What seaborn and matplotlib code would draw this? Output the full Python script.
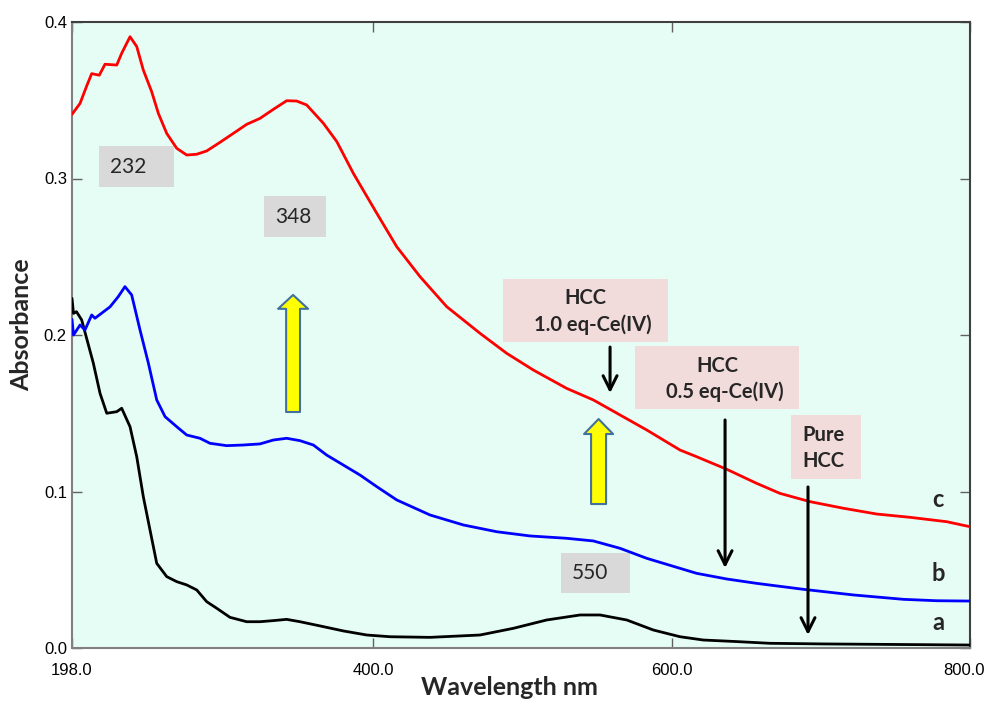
import matplotlib
matplotlib.use("Agg")
import matplotlib.pyplot as plt
import matplotlib.transforms as mtransforms
import seaborn as sns
import pandas as pd
from matplotlib.patches import Rectangle, FancyArrowPatch

# ---------------- data ----------------
wl_c = [198, 203.4, 207.8, 211.2, 216.3, 220.1, 228, 231.3, 236.9, 241.4, 245.8, 251.4, 255.9,
        261.5, 268.2, 274.9, 281.6, 288.3, 297.2, 306.1, 315.1, 324, 333, 341.9, 348.6, 355.3,
        366.5, 375.5, 386.6, 402.3, 415.7, 431.3, 449.2, 471.5, 489.4, 507.3, 529.6, 547.5,
        565.4, 583.3, 605.6, 616.8, 636.9, 657, 672.6, 692.8, 715.1, 737.5, 759.8, 784.4, 800]
abs_c = [0.341, 0.348, 0.359, 0.367, 0.366, 0.373, 0.3725, 0.380, 0.3906, 0.3843, 0.3693, 0.3555,
         0.3416, 0.3288, 0.3193, 0.315, 0.3155, 0.3176, 0.3231, 0.3288, 0.3346, 0.3384, 0.3442,
         0.3497, 0.3495, 0.347, 0.3353, 0.3236, 0.3033, 0.2778, 0.2564, 0.2373, 0.2181, 0.2011,
         0.1883, 0.1776, 0.1659, 0.1585, 0.1489, 0.1393, 0.1265, 0.1222, 0.1142, 0.1052, 0.0988,
         0.0935, 0.0893, 0.0856, 0.0835, 0.0807, 0.0775]

wl_b = [198, 199, 203.4, 206.7, 211.2, 213.4, 223.5, 229, 233.5, 238, 243.6, 249.2, 254.8, 260.4,
        268.2, 274.9, 283.8, 290.5, 301.7, 312.8, 324, 333, 341.9, 350.8, 359.8, 368.7, 379.9,
        391.1, 402.3, 415.7, 438, 460.4, 482.7, 505, 529.6, 547.5, 565.4, 583.3, 605.6, 616.8,
        636.9, 657, 688.3, 721.8, 755.3, 777.7, 800]
abs_b = [0.210, 0.200, 0.2064, 0.2032, 0.2128, 0.2107, 0.218, 0.2245, 0.2309, 0.2256, 0.2032, 0.182,
         0.1585, 0.1478, 0.1414, 0.1361, 0.134, 0.1308, 0.1293, 0.1297, 0.1304, 0.1329, 0.134,
         0.1325, 0.1297, 0.1233, 0.1169, 0.1105, 0.1031, 0.0946, 0.085, 0.0786, 0.0743, 0.0716,
         0.0701, 0.0684, 0.0637, 0.0573, 0.0509, 0.0477, 0.0441, 0.0413, 0.0375, 0.0339, 0.0311,
         0.0302, 0.030]

wl_a = [198, 199, 201, 204.5, 207.8, 212.3, 216.8, 221.3, 228, 231.3, 236.9, 241.4, 245.8, 250.3,
        254.8, 261.5, 268.2, 274.9, 281.6, 288.3, 295, 303.9, 315.1, 324, 333, 341.9, 350.8,
        364.3, 379.9, 395.6, 411.2, 438, 471.5, 494, 516.2, 538.6, 552, 569.9, 587.7, 605.6,
        621.2, 643.6, 665.9, 701.7, 800]
abs_a = [0.2234, 0.2138, 0.2149, 0.2096, 0.1979, 0.182, 0.1627, 0.15, 0.151, 0.1532, 0.1414, 0.1222,
         0.0967, 0.0754, 0.0541, 0.0456, 0.0424, 0.0403, 0.0371, 0.0296, 0.0254, 0.0196, 0.0168,
         0.0168, 0.0175, 0.0183, 0.0168, 0.0141, 0.0109, 0.0083, 0.0072, 0.0068, 0.0083, 0.0126,
         0.0179, 0.0211, 0.0211, 0.0179, 0.0115, 0.0072, 0.0051, 0.0041, 0.003, 0.0026, 0.0019]

series_names = ["a", "b", "c"]
series_colors = {"a": "#000000", "b": "#0000ff", "c": "#ff0000"}

x_ticks = [198, 400, 600, 800]
x_tick_labels = ["198.0", "400.0", "600.0", "800.0"]
y_ticks = [0.0, 0.1, 0.2, 0.3, 0.4]
y_tick_labels = ["0.0", "0.1", "0.2", "0.3", "0.4"]

peak_labels = ["232", "348", "550"]
x_label = "Wavelength nm"
y_label = "Absorbance"

# ---------------- style ----------------
sns.set_theme(style="ticks")
plt.rcParams['font.family'] = ['Liberation Sans Narrow', 'Liberation Sans', 'DejaVu Sans']

df = pd.concat([
    pd.DataFrame({"wl": wl_a, "abs": abs_a, "sample": "a"}),
    pd.DataFrame({"wl": wl_b, "abs": abs_b, "sample": "b"}),
    pd.DataFrame({"wl": wl_c, "abs": abs_c, "sample": "c"}),
], ignore_index=True)

fig = plt.figure(figsize=(9.87, 7.02), dpi=100)
fig.patch.set_facecolor("white")
ax = fig.add_axes([72 / 987, 54 / 702, 898 / 987, 626 / 702])
ax.set_facecolor("#e6fdf5")

sns.lineplot(data=df, x="wl", y="abs", hue="sample", hue_order=series_names,
             palette=series_colors, estimator=None, linewidth=2.0, legend=False, ax=ax, zorder=5)

ax.set_xlim(198, 800)
ax.set_ylim(0, 0.4)
ax.set_xticks(x_ticks)
ax.set_xticklabels(x_tick_labels)
ax.set_yticks(y_ticks)
ax.set_yticklabels(y_tick_labels)
ax.tick_params(direction="in", top=True, right=True, length=7, width=1,
               color="#606060", labelsize=12, labelcolor="black")
ax.tick_params(axis="x", pad=10.5)
ax.tick_params(axis="y", pad=3.6)
for side, sp in ax.spines.items():
    sp.set_visible(True)
    sp.set_linewidth(1.5)
    sp.set_color("#808080" if side in ("left", "bottom") else "#404040")

# keep the last x tick label inside the figure
last_lbl = ax.get_xticklabels()[-1]
last_lbl.set_transform(last_lbl.get_transform() +
                       mtransforms.ScaledTranslation(-4 / 72, 0, fig.dpi_scale_trans))

ax.set_ylabel(y_label, fontfamily="Lato", fontweight="bold", fontsize=18, va="center")
ax.yaxis.set_label_coords(-0.0557, 0.516)
ax.set_xlabel(x_label, fontfamily="Lato", fontweight="bold", fontsize=18, va="top")
ax.xaxis.set_label_coords(0.4867, -0.0447)

# ---------------- annotations ----------------
def box(x0, x1, y0, y1, color):
    ax.add_patch(Rectangle((x0, y0), x1 - x0, y1 - y0, facecolor=color,
                           edgecolor="none", zorder=3))

gray = "#d9d9d9"
pink = "#f2dcdb"

box(216.1, 266.4, 0.2946, 0.3208, gray)
ax.text(235.5, 0.3073, peak_labels[0], fontfamily="Lato", fontsize=15, ha="center", va="center", zorder=4)
box(326.7, 368.3, 0.2626, 0.2888, gray)
ax.text(346.5, 0.2756, peak_labels[1], fontfamily="Lato", fontsize=15, ha="center", va="center", zorder=4)
box(525.8, 572.1, 0.0351, 0.0607, gray)
ax.text(545.3, 0.0479, peak_labels[2], fontfamily="Lato", fontsize=15, ha="center", va="center", zorder=4)

bold_kw = dict(fontfamily="Lato", fontweight="bold", fontsize=14.5, va="center", zorder=4)
box(486.9, 597.5, 0.1955, 0.2358, pink)
ax.text(541.9, 0.2236, "HCC", ha="center", **bold_kw)
ax.text(547.3, 0.2064, "1.0 eq-Ce(IV)", ha="center", **bold_kw)
box(575.4, 685.4, 0.1527, 0.1930, pink)
ax.text(630.7, 0.1804, "HCC", ha="center", **bold_kw)
ax.text(635.4, 0.1636, "0.5 eq-Ce(IV)", ha="center", **bold_kw)
box(680.0, 726.9, 0.1080, 0.1489, pink)
ax.text(687.4, 0.1361, "Pure", ha="left", **bold_kw)
ax.text(687.4, 0.1195, "HCC", ha="left", **bold_kw)

for xa, y_tail, y_tip in [(558.7, 0.1923, 0.1629), (635.8, 0.1457, 0.0511), (691.4, 0.1029, 0.0083)]:
    ax.annotate("", xy=(xa, y_tip), xytext=(xa, y_tail),
                arrowprops=dict(arrowstyle="->,head_length=10,head_width=5", mutation_scale=1,
                                lw=2.2, color="black", shrinkA=0, shrinkB=0), zorder=6)

ax.add_patch(FancyArrowPatch((346.2, 0.1508), (346.2, 0.2256),
                             arrowstyle="simple,head_length=10,head_width=21.6,tail_width=10",
                             mutation_scale=1, shrinkA=0, shrinkB=0,
                             facecolor="#ffff00", edgecolor="#41719c", lw=1.5, zorder=4))
ax.add_patch(FancyArrowPatch((551.0, 0.0920), (551.0, 0.1463),
                             arrowstyle="simple,head_length=10.8,head_width=20.9,tail_width=10.8",
                             mutation_scale=1, shrinkA=0, shrinkB=0,
                             facecolor="#ffff00", edgecolor="#41719c", lw=1.5, zorder=4))

letter_kw = dict(fontfamily="Lato", fontweight="bold", fontsize=17, ha="center", va="center", zorder=6)
ax.text(778.5, 0.0946, "c", **letter_kw)
ax.text(778.5, 0.0479, "b", **letter_kw)
ax.text(778.5, 0.0160, "a", **letter_kw)

fig.savefig("out.png", dpi=100, facecolor="white")
